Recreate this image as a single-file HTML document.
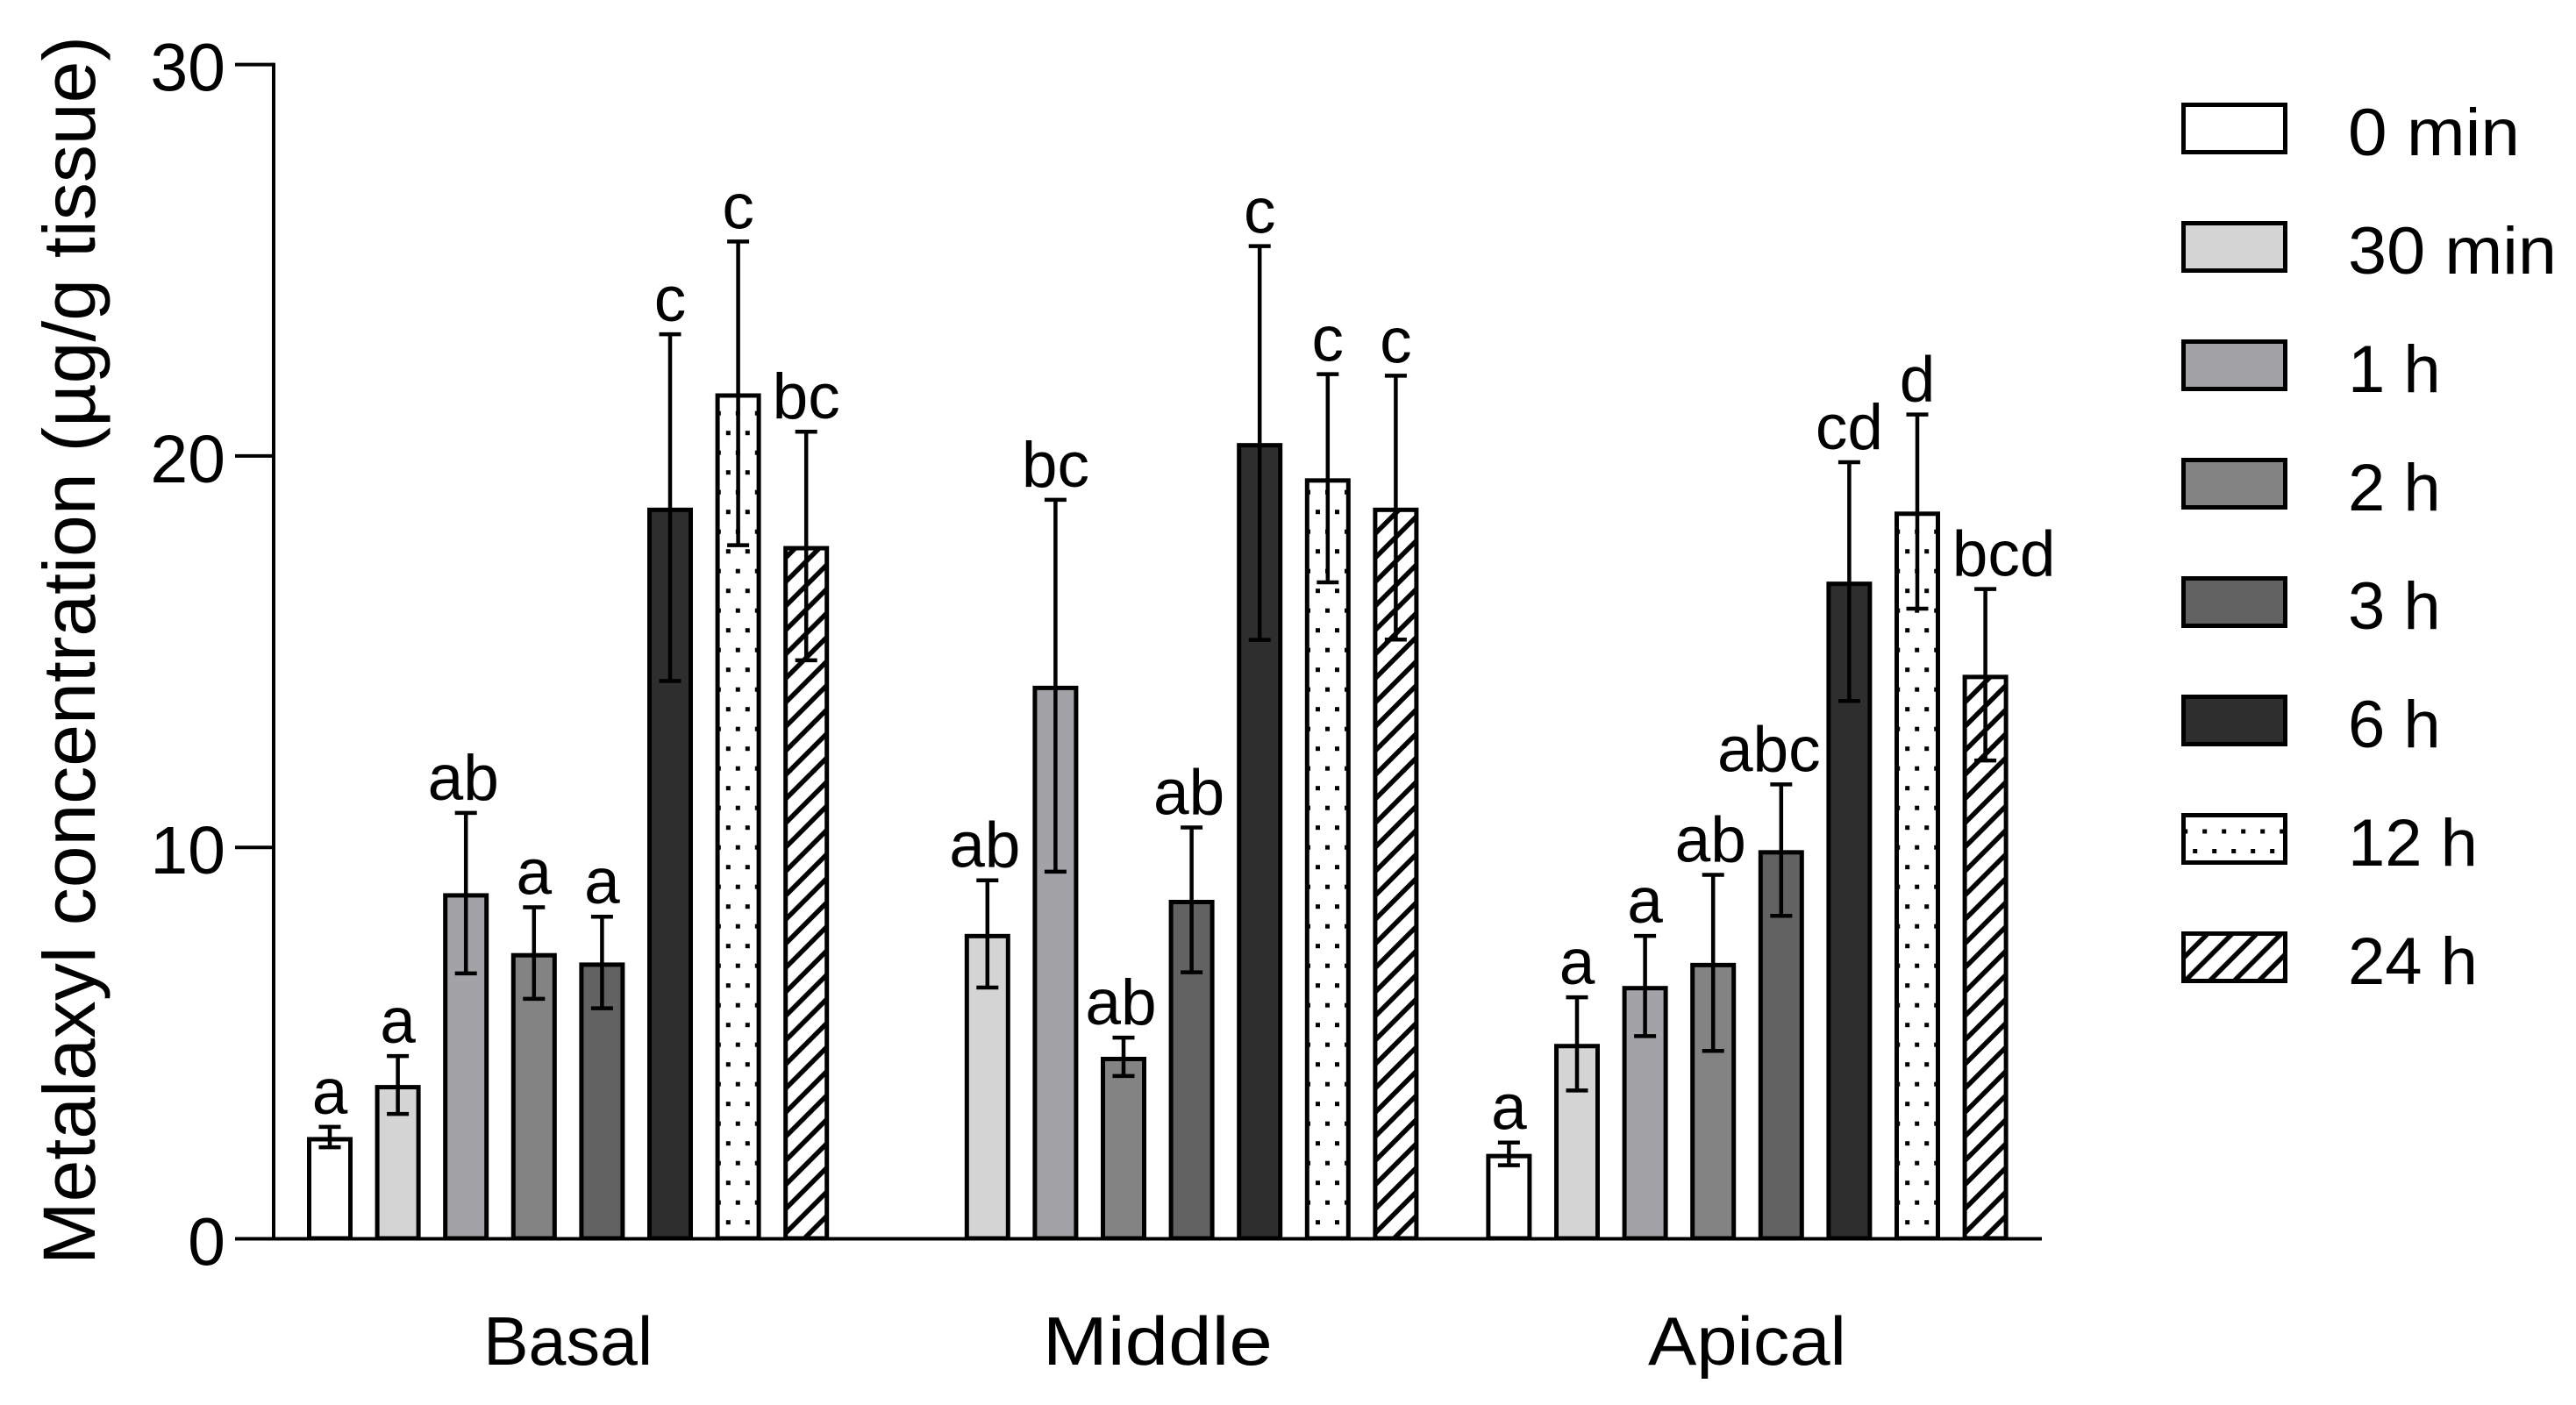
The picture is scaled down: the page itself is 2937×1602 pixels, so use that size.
<!DOCTYPE html>
<html lang="en">
<head>
<meta charset="utf-8">
<title>Metalaxyl concentration chart</title>
<style>
html,body{margin:0;padding:0;background:#fff;}
svg{display:block;font-family:"Liberation Sans",sans-serif;fill:#000;}
</style>
</head>
<body>
<svg id="chart" xmlns="http://www.w3.org/2000/svg" width="2937" height="1602" viewBox="0 0 2937 1602">
<defs id="defs"></defs>
<rect x="0" y="0" width="2937" height="1602" fill="#fff"></rect>
<text transform="translate(108 1442) rotate(-90)" font-size="84" textLength="1401" lengthAdjust="spacingAndGlyphs">Metalaxyl concentration (µg/g tissue)</text>
</svg>
<script>
const categories = ['Basal', 'Middle', 'Apical'];
const seriesNames = ['0 min', '30 min', '1 h', '2 h', '3 h', '6 h', '12 h', '24 h'];
const yTicks = [0, 10, 20, 30];

const basalValues = [2.6, 3.93, 8.83, 7.3, 7.06, 18.68, 21.6, 17.7];
const middleValues = [null, 7.79, 14.13, 4.65, 8.66, 20.33, 19.43, 18.68];
const apicalValues = [2.17, 4.98, 6.46, 7.05, 9.93, 16.79, 18.58, 14.41];

const basalErrors = [0.26, 0.74, 2.05, 1.17, 1.17, 4.43, 3.88, 2.92];
const middleErrors = [null, 1.37, 4.75, 0.49, 1.85, 5.03, 2.66, 3.37];
const apicalErrors = [0.29, 1.19, 1.28, 2.25, 1.68, 3.05, 2.48, 2.19];

const basalLetters = ['a', 'a', 'ab', 'a', 'a', 'c', 'c', 'bc'];
const middleLetters = [null, 'ab', 'bc', 'ab', 'ab', 'c', 'c', 'c'];
const apicalLetters = ['a', 'a', 'a', 'ab', 'abc', 'cd', 'd', 'bcd'];

const valueSets = [basalValues, middleValues, apicalValues];
const errorSets = [basalErrors, middleErrors, apicalErrors];
const letterSets = [basalLetters, middleLetters, apicalLetters];

const svg = document.getElementById('chart');
const defs = document.getElementById('defs');
const NS = 'http://www.w3.org/2000/svg';

function make(tag, attrs, parent) {
  const el = document.createElementNS(NS, tag);
  for (const k in attrs) el.setAttribute(k, attrs[k]);
  (parent || svg).appendChild(el);
  return el;
}

/* axis functions */
function yScale(v) { return 1412.5 - v * 44.63; }
function xScale(group, bar) { return 376 + group * 672.2 + bar * 77.6; }

const BAR_W = 52;
const solidFills = ['#ffffff', '#d4d4d4', '#a3a2a7', '#838383', '#626262', '#2e2e2e'];
let patternCount = 0;

function dotPattern(px, py) {
  const id = 'dots-' + (patternCount++);
  const p = make('pattern', {id: id, patternUnits: 'userSpaceOnUse', x: px, y: py, width: 22, height: 45}, defs);
  make('rect', {x: 0, y: 0, width: 22, height: 45, fill: '#fff'}, p);
  make('rect', {x: 0, y: 0, width: 5, height: 5, fill: '#000'}, p);
  make('rect', {x: 11, y: 22.5, width: 5, height: 5, fill: '#000'}, p);
  return 'url(#' + id + ')';
}
function hatchPattern(sum, period) {
  const id = 'hatch-' + (patternCount++);
  const p = make('pattern', {id: id, patternUnits: 'userSpaceOnUse', x: sum % period, y: 0, width: period, height: period}, defs);
  make('rect', {x: 0, y: 0, width: period, height: period, fill: '#fff'}, p);
  make('path', {d: 'M-5,' + (period + 5) + 'L' + (period + 5) + ',-5M-5,5L5,-5M' + (period - 5) + ',' + (period + 5) + 'L' + (period + 5) + ',' + (period - 5), stroke: '#000', 'stroke-width': 5.5, fill: 'none'}, p);
  return 'url(#' + id + ')';
}
function barFill(s, left) {
  if (s < 6) return solidFills[s];
  if (s === 6) return dotPattern(left + 12.2, 1391.2);
  return hatchPattern(left + 26 + 1410, 27.5);
}

/* bars, error bars, letters */
const labelNudge = {bcd: 21, abc: -14, ab: -3};
valueSets.forEach(function (values, g) {
  values.forEach(function (v, s) {
    if (v === null) return;
    const cx = xScale(g, s);
    const left = cx - BAR_W / 2;
    const top = yScale(v);
    const bar = make('rect', {x: left + 2.5, y: top + 2.5, width: BAR_W - 5, height: 1412 - top - 2.5, fill: barFill(s, left), stroke: '#000', 'stroke-width': 5});
    
    
  });
});

valueSets.forEach(function (values, g) {
  values.forEach(function (v, s) {
    if (v === null) return;
    const cx = xScale(g, s);
    const err = errorSets[g][s];
    const hi = yScale(v + err);
    const lo = yScale(v - err);
    const eb = make('path', {d: 'M' + cx + ',' + hi + 'V' + lo + 'M' + (cx - 12.5) + ',' + hi + 'H' + (cx + 12.5) + 'M' + (cx - 12.5) + ',' + lo + 'H' + (cx + 12.5), stroke: '#000', 'stroke-width': 4.5, fill: 'none'});
    
    
    const word = letterSets[g][s];
    const t = make('text', {x: cx + (labelNudge[word] || 0), y: hi - 15, 'font-size': 73, 'text-anchor': 'middle'});
    t.textContent = word;
    
    
  });
});

/* axes */
const yAxis = make('line', {x1: 312, x2: 312, y1: yScale(30) - 2, y2: yScale(0), stroke: '#000', 'stroke-width': 4});


const xAxis = make('line', {x1: 268, x2: 2328, y1: yScale(0), y2: yScale(0), stroke: '#000', 'stroke-width': 4});



yTicks.forEach(function (tick) {
  const y = yScale(tick);
  const mark = make('line', {x1: 268, x2: 312, y1: y, y2: y, stroke: '#000', 'stroke-width': 4});
  
  
  const lab = make('text', {x: 257, y: y + 30, 'font-size': 77, 'text-anchor': 'end'});
  lab.textContent = tick;
  
  
});

/* category labels */
const categoryWidth = {Basal: 193, Middle: 262, Apical: 226};
categories.forEach(function (name, g) {
  const center = xScale(g, 3.5);
  const t = make('text', {x: center, y: 1556, 'font-size': 78, 'text-anchor': 'middle', textLength: categoryWidth[name], lengthAdjust: 'spacingAndGlyphs'});
  t.textContent = name;
  
  
});

/* legend */
const legendWidth = {'0 min': 196, '30 min': 238};
seriesNames.forEach(function (name, s) {
  const top = 117 + s * 135;
  let fill;
  if (s < 6) fill = solidFills[s];
  else if (s === 6) fill = dotPattern(2500.2, top - 4);
  else fill = hatchPattern(2493 + 1116.7, 28);
  const box = make('rect', {x: 2489.5, y: top + 2.5, width: 116, height: 54, fill: fill, stroke: '#000', 'stroke-width': 5});
  
  
  const t = make('text', {x: 2677, y: top + 60, 'font-size': 76});
  if (legendWidth[name]) {
    t.setAttribute('textLength', legendWidth[name]);
    t.setAttribute('lengthAdjust', 'spacingAndGlyphs');
  }
  t.textContent = name;
  
  
});
</script>
</body>
</html>
